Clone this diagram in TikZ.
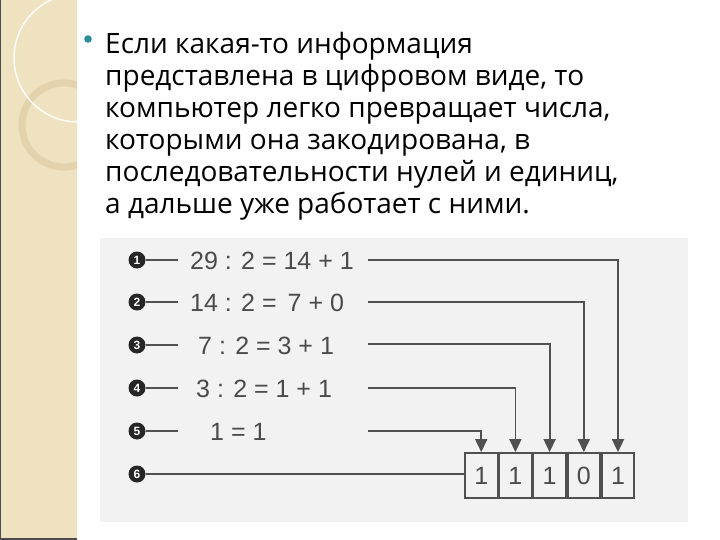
\documentclass[tikz,border=0pt]{standalone}
\usepackage{fontspec}
\setmainfont{Liberation Sans}
\newfontfamily\bodyfont{Open Sans}
\newfontfamily\eqfont{Liberation Sans}
\usetikzlibrary{arrows.meta}
\definecolor{strip}{HTML}{EFE2C0}
\definecolor{ringc}{HTML}{E2D3AE}
\definecolor{teal}{HTML}{2E8C98}
\definecolor{scan}{HTML}{F2F2F2}
\definecolor{ink}{HTML}{505050}
\definecolor{eqc}{HTML}{4A4A4A}
\tikzset{
  bodyline/.style={anchor=base west, inner sep=0pt, font=\bodyfont\fontsize{28}{32}\selectfont},
  eqtext/.style={anchor=base west, inner sep=0pt, text=eqc, font=\eqfont\fontsize{25}{30}\selectfont},
  numc/.style={circle, fill=black!85, text=white, inner sep=0pt, minimum size=17pt, font=\eqfont\bfseries\fontsize{12}{12}\selectfont},
  wire/.style={draw=ink, line width=1.8pt},
  arr/.style={wire, -{Triangle[length=13pt,width=12pt]}},
  cell/.style={draw=ink, line width=1.8pt, minimum width=32.4pt, minimum height=45pt, inner sep=0pt, text=eqc, font=\eqfont\fontsize{25}{30}\selectfont}
}
\begin{document}
\begin{tikzpicture}[x=1pt,y=-1pt]
\useasboundingbox (0,0) rectangle (720,540);
\fill[white] (0,0) rectangle (720,540);
% left decorative strip
\begin{scope}
\clip (0,0) rectangle (77,540);
\fill[strip] (0,0) rectangle (77,540);
\draw[ringc, line width=7pt] (64,125) circle (42);
\draw[white, line width=1.5pt, opacity=0.9] (78,58) circle (64);
\end{scope}
\draw[black!70, line width=1.2pt] (0.6,0) -- (0.6,540);
\draw[black!70, line width=1.2pt] (0,539) -- (77,539);
% bullet and text
\fill[teal] (88,39) circle (3.8);
\node[bodyline] (l1) at (105,54) {Если какая-то информация};
\node[bodyline] (l2) at (105,86) {представлена в цифровом виде, то};
\node[bodyline] (l3) at (105,118) {компьютер легко превращает числа,};
\node[bodyline] (l4) at (105,150) {которыми она закодирована, в};
\node[bodyline] (l5) at (105,182) {последовательности нулей и единиц,};
\node[bodyline] (l6) at (105,214) {а дальше уже работает с ними.};
% scanned figure background
\fill[scan] (100,238) rectangle (688,522);
% circled numbers
\node[numc] (n1) at (137,260) {1};
\node[numc] (n2) at (137,302) {2};
\node[numc] (n3) at (137,345) {3};
\node[numc] (n4) at (137,388) {4};
\node[numc] (n5) at (137,431) {5};
\node[numc] (n6) at (137,474) {6};
% equations
\node[eqtext] (e1) at (190,269) {29 : 2 = 14 + 1};
\node[eqtext] (e2) at (190,311) {14 : 2 =\, 7 + 0};
\node[eqtext] (e3) at (198,354) {7 : 2 = 3 + 1};
\node[eqtext] (e4) at (196,397) {3 : 2 = 1 + 1};
\node[eqtext] (e5) at (210,440) {1 = 1};
% short leader lines
\foreach \i/\y in {1/260,2/302,3/345,4/388,5/431}{
  \coordinate (s\i) at (178,\y);
  \draw[wire] (n\i) -- (s\i);
}
% result box
\node[cell] (c1) at (481.2,475.5) {1};
\node[cell, anchor=west] (c2) at (c1.east) {1};
\node[cell, anchor=west] (c3) at (c2.east) {1};
\node[cell, anchor=west] (c4) at (c3.east) {0};
\node[cell, anchor=west] (c5) at (c4.east) {1};
\draw[wire] (n6) -- (n6 -| c1.west);
% right connectors
\foreach \i/\y/\c in {1/260/c5,2/302/c4,3/344/c3,4/388/c2,5/431/c1}{
  \coordinate (r\i) at (368,\y);
  \draw[arr] (r\i) -| (\c.north);
}
\end{tikzpicture}
\end{document}
